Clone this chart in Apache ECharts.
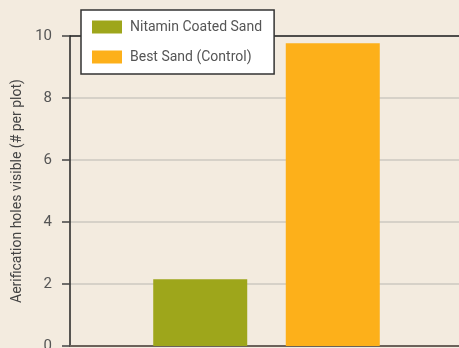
<!DOCTYPE html>
<html>
<head>
<meta charset="utf-8">
<script src="https://cdn.jsdelivr.net/npm/echarts@6/dist/echarts.min.js"></script>
<style>
  html, body { margin: 0; padding: 0; background: #f3ebdf; }
  #chart { width: 459px; height: 348px; }
</style>
</head>
<body>
<div id="chart"></div>
<script>
const categories = ['']
const seriesNames = ['Nitamin Coated Sand', 'Best Sand (Control)']
const nitaminValues = [2.15]
const controlValues = [9.77]
const yTicks = [0, 2, 4, 6, 8, 10]

const FONT = "'Roboto', sans-serif"

const chart = echarts.init(document.getElementById('chart'), null, { renderer: 'canvas' })

chart.setOption({
  backgroundColor: '#f3ebdf',
  animation: false,
  textStyle: { fontFamily: FONT },
  legend: {
    data: seriesNames,
    orient: 'vertical',
    left: 81,
    top: 10,
    padding: [10, 12, 10, 11],
    icon: 'rect',
    itemWidth: 30,
    itemHeight: 13,
    itemGap: 16,
    backgroundColor: '#ffffff',
    borderColor: '#333333',
    borderWidth: 1.5,
    textStyle: { color: '#555555', fontSize: 14, fontFamily: FONT, padding: [0, 0, 0, 3] },
  },
  grid: { left: 70, right: -4, top: 36, bottom: 2, containLabel: false, outerBoundsMode: 'none' },
  xAxis: [
    {
      type: 'category',
      data: categories,
      axisLine: { lineStyle: { color: '#6b625a', width: 2 } },
      axisTick: { show: false },
      axisLabel: { show: false },
    },
    {
      type: 'category',
      position: 'top',
      data: categories,
      axisLine: { lineStyle: { color: '#222222', width: 1.5 } },
      axisTick: { show: false },
      axisLabel: { show: false },
    },
  ],
  yAxis: {
    type: 'value',
    min: yTicks[0],
    max: yTicks[yTicks.length - 1],
    interval: 2,
    name: 'Aerification holes visible (# per plot)',
    nameLocation: 'middle',
    nameGap: 45,
    nameTextStyle: { color: '#444444', fontSize: 14, fontFamily: FONT },
    axisLine: { show: true, lineStyle: { color: '#222222', width: 1.5 } },
    axisTick: { show: true, length: 8, lineStyle: { color: '#444444', width: 1.5 } },
    axisLabel: { color: '#555555', fontSize: 15, margin: 18, fontFamily: FONT },
    splitLine: { lineStyle: { color: '#d6d1c8', width: 2 } },
  },
  series: [
    {
      name: seriesNames[0],
      type: 'bar',
      data: nitaminValues,
      barWidth: 94,
      barGap: '41%',
      itemStyle: { color: '#9ea61b' },
      z: 1,
    },
    {
      name: seriesNames[1],
      type: 'bar',
      data: controlValues,
      barWidth: 94,
      itemStyle: { color: '#fdb01a' },
      z: 1,
    },
  ],
})
</script>
</body>
</html>
